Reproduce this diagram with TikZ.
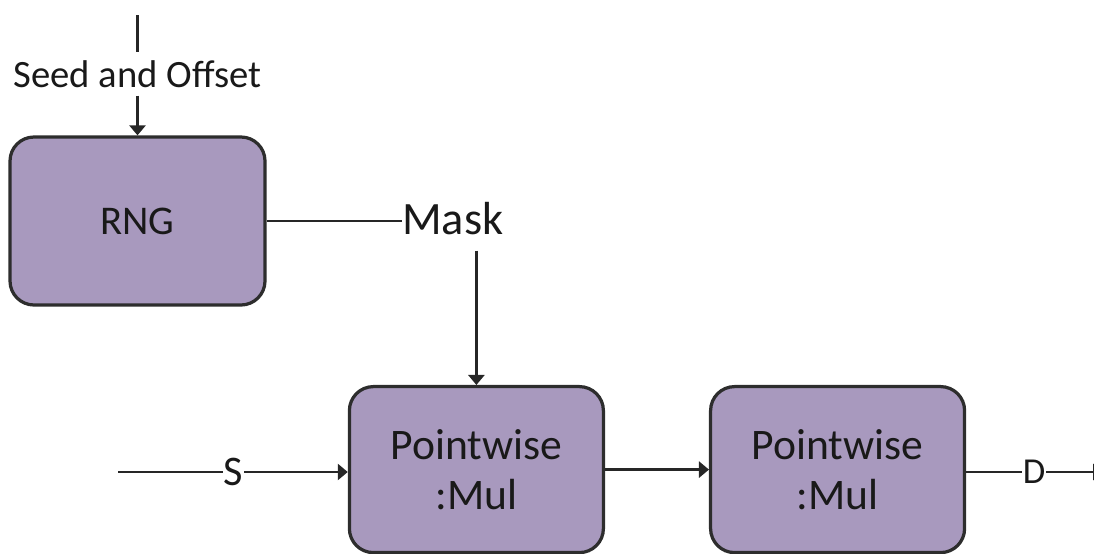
\documentclass[tikz,border=0pt]{standalone}
\usepackage{fontspec}
\setmainfont{Carlito}
\usepackage{tikz}
\usepackage{xcolor}
\usetikzlibrary{arrows.meta}
\definecolor{opfill}{RGB}{168,153,190}
\definecolor{opline}{RGB}{45,45,45}

\begin{document}
\begin{tikzpicture}[x=1cm,y=1cm,
  every node/.style={font=\fontsize{27.5}{33}\selectfont,text=black!90},
  opbox/.style={draw=opline,line width=2.3pt,fill=opfill,rounded corners=0.6cm,
    minimum width=6.35cm,minimum height=4.15cm,align=center,inner sep=0pt},
  sig/.style={inner sep=0.5pt},
  wire/.style={line width=1.8pt,black!85},
  flow/.style={wire,-{Triangle[length=0.25cm,width=0.4cm]}}]
\useasboundingbox (0,0) rectangle (27.35,-13.85);
% blocks
\node[opbox,minimum width=6.375cm,minimum height=4.2cm,font=\fontsize{29}{35}\selectfont] (rng) at (3.4375,-5.525) {RNG};
\node[opbox,font=\fontsize{31}{35.6}\selectfont] (pw1) at (11.91,-11.74) {Pointwise\\:Mul};
\node[opbox,font=\fontsize{31}{35.6}\selectfont] (pw2) at (20.94,-11.74) {Pointwise\\:Mul};
% signal labels
\node[sig,inner sep=0.2cm,anchor=base] (seed) at (3.4375,-2.175) {Seed and Offset};
\node[sig,inner sep=0pt,anchor=base west,font=\fontsize{33}{40}\selectfont] (mask) at (10.05,-5.85) {Mask};
\node[sig,font=\fontsize{30}{36}\selectfont] (s) at (5.84,-11.8) {S};
\node[sig,font=\fontsize{26}{31}\selectfont] (d) at (25.85,-11.8) {D};
\coordinate (seedin) at (3.4375,-0.375);
\coordinate (sin) at (2.95,-11.8);
\coordinate (dout) at (27.58,-11.8);
% connectors
\draw[wire] (seedin) -- (seed.north);
\draw[flow] (seed.south) -- (rng.north);
\draw[wire] (rng.east) -- (rng.east -| mask.west);
\draw[flow] ([yshift=-0.4cm]mask.south -| pw1.north) -- (pw1.north);
\draw[wire] (sin) -- (s.west);
\draw[flow] (s.east) -- (s.east -| pw1.west);
\draw[flow] (pw1.east) -- (pw2.west);
\draw[wire] (pw2.east |- d.west) -- (d.west);
\draw[flow] (d.east) -- (dout);
\end{tikzpicture}
\end{document}
